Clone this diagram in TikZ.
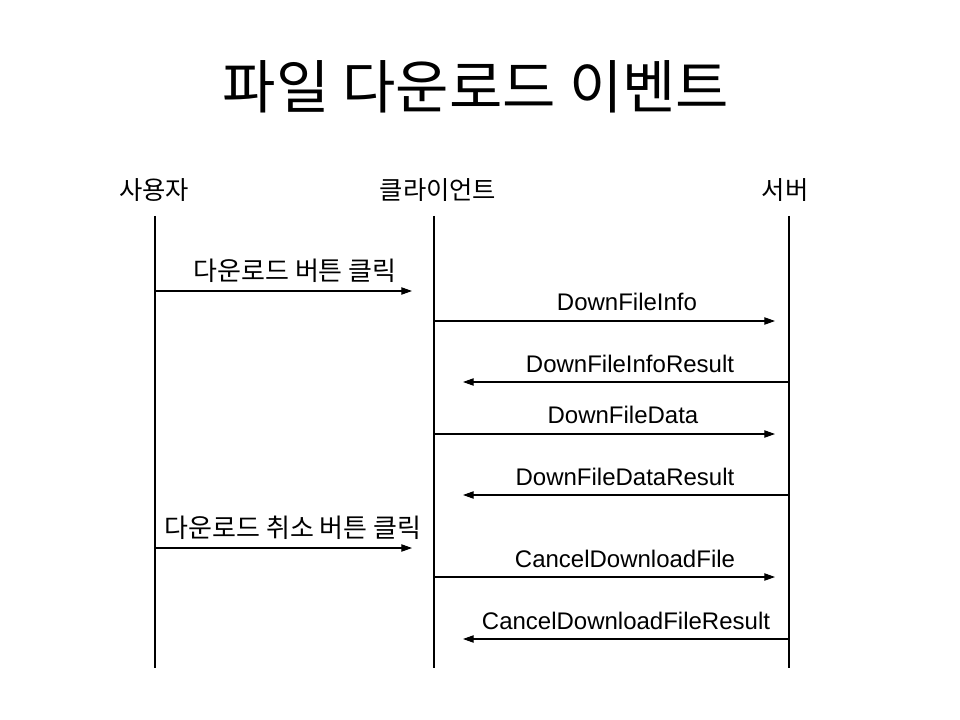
\documentclass[tikz,border=0pt]{standalone}
\usepackage{fontspec}
\setmainfont{Liberation Sans}
\newfontfamily\kr{Noto Sans CJK KR}
\usetikzlibrary{arrows.meta}
\begin{document}
\begin{tikzpicture}[x=0.75pt,y=-0.75pt,
  lifeline/.style={draw=black,line width=0.8pt},
  msg/.style={draw=black,line width=0.8pt,-{Triangle[length=8pt,width=5.5pt]}},
  hdr/.style={font=\kr\fontsize{19pt}{22pt}\selectfont,inner sep=0pt,anchor=base},
  lbl/.style={font=\fontsize{18pt}{21pt}\selectfont,inner sep=0pt},
  klbl/.style={font=\kr\fontsize{19.5pt}{22pt}\selectfont,inner sep=0pt}]
\useasboundingbox[fill=white] (0,0) rectangle (960,720);
\node[font=\kr\fontsize{43.5pt}{50pt}\selectfont,inner sep=0pt] (title) at (476,87) {파일 다운로드 이벤트};
% headers
\node[hdr] (user) at (154,200) {사용자};
\node[hdr] (client) at (438,200) {클라이언트};
\node[hdr] (server) at (785,200) {서버};
% lifelines
\coordinate (u0) at (155,216); \coordinate (u1) at (155,668);
\coordinate (c0) at (434,216); \coordinate (c1) at (434,668);
\coordinate (s0) at (789,216); \coordinate (s1) at (789,668);
\draw[lifeline] (u0) -- (u1);
\draw[lifeline] (c0) -- (c1);
\draw[lifeline] (s0) -- (s1);
% messages
\coordinate (m1a) at (155,291); \coordinate (m1b) at (412,291);
\draw[msg] (m1a) -- (m1b);
\node[klbl] (l1) at (295,271) {다운로드 버튼 클릭};
\coordinate (m2a) at (434,321); \coordinate (m2b) at (775,321);
\draw[msg] (m2a) -- (m2b);
\node[lbl] (l2) at (627,302) {DownFileInfo};
\coordinate (m3a) at (789,382); \coordinate (m3b) at (463,382);
\draw[msg] (m3a) -- (m3b);
\node[lbl] (l3) at (630,364) {DownFileInfoResult};
\coordinate (m4a) at (434,434); \coordinate (m4b) at (775,434);
\draw[msg] (m4a) -- (m4b);
\node[lbl] (l4) at (623,415) {DownFileData};
\coordinate (m5a) at (789,495); \coordinate (m5b) at (463,495);
\draw[msg] (m5a) -- (m5b);
\node[lbl] (l5) at (625,477) {DownFileDataResult};
\coordinate (m6a) at (155,548); \coordinate (m6b) at (412,548);
\draw[msg] (m6a) -- (m6b);
\node[klbl] (l6) at (293,528) {다운로드 취소 버튼 클릭};
\coordinate (m7a) at (434,577); \coordinate (m7b) at (775,577);
\draw[msg] (m7a) -- (m7b);
\node[lbl] (l7) at (625,559) {CancelDownloadFile};
\coordinate (m8a) at (789,639); \coordinate (m8b) at (463,639);
\draw[msg] (m8a) -- (m8b);
\node[lbl] (l8) at (626,621) {CancelDownloadFileResult};
\end{tikzpicture}
\end{document}
